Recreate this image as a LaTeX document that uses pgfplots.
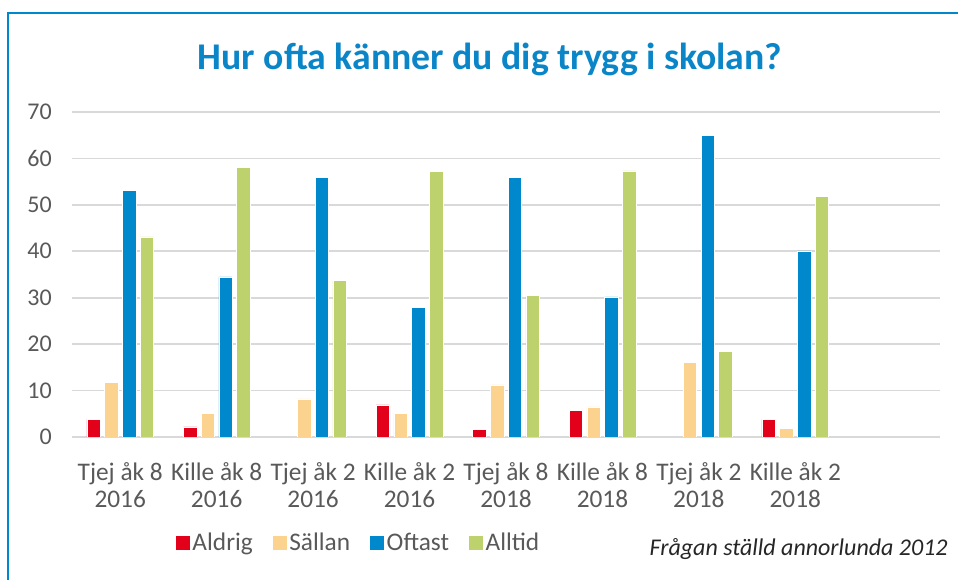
\documentclass[border=0pt]{standalone}
\usepackage{fontspec}
\setmainfont{Carlito}
\usepackage{pgfplots}
\pgfplotsset{compat=1.18}
\definecolor{cRed}{HTML}{E2001A}
\definecolor{cTan}{HTML}{FCD28F}
\definecolor{cBlue}{HTML}{0088CC}
\definecolor{cGreen}{HTML}{BDD16C}
\definecolor{cGrid}{HTML}{D9D9D9}
\definecolor{cText}{HTML}{595959}
\definecolor{cTitle}{HTML}{0A86C8}
\begin{document}
\begin{tikzpicture}
\useasboundingbox (0pt,0pt) rectangle (718.5pt,435pt);
\clip (0pt,0pt) rectangle (718.5pt,435pt);
\draw[cBlue, line width=1.3pt] (6pt,-5pt) -- (6pt,425.25pt) -- (730pt,425.25pt);
\node[anchor=base, text=cTitle, font=\fontsize{28.3}{32}\selectfont\bfseries] at (367.5pt,382.5pt) {Hur ofta känner du dig trygg i skolan?};
\node[anchor=east, text=black!85, font=\fontsize{18}{22}\selectfont\itshape, inner sep=0pt] at (711pt,23.25pt) {Frågan ställd annorlunda 2012};
\begin{axis}[
  at={(90.167pt,107.25pt)}, anchor=origin,
  scale only axis, width=651pt, height=243.75pt,
  ybar=3.2pt, bar width=10.1pt,
  xmin=-0.5, xmax=8.5, ymin=0, ymax=70,
  ytick={0,10,...,70},
  xtick={0,...,7},
  xticklabels={{Tjej åk 8\\2016},{Kille åk 8\\2016},{Tjej åk 2\\2016},{Kille åk 2\\2016},{Tjej åk 8\\2018},{Kille åk 8\\2018},{Tjej åk 2\\2018},{Kille åk 2\\2018}},
  axis line style={draw=none},
  major tick length=0pt,
  ymajorgrids, grid style={cGrid, line width=1.2pt},
  yticklabel style={font=\fontsize{18}{22}\selectfont, text=cText, inner sep=0pt, xshift=-15pt},
  xticklabel style={font=\fontsize{19}{20.5}\selectfont, text=cText, align=center, inner sep=0pt, yshift=-19pt},
  /pgf/number format/assume math mode=true,
  legend columns=-1,
  legend style={at={(0.3306,-0.326)}, anchor=center, draw=none, fill=none,
    font=\fontsize{19}{22}\selectfont, text=cText,
    /tikz/every even column/.append style={column sep=13pt}},
  legend image code/.code={\fill[#1, draw=none] (0pt,-5.2pt) rectangle (10.4pt,5.2pt);},
  every axis plot/.append style={draw=white, line width=0.4pt},
]
\addplot[fill=cRed] coordinates {(0,3.8) (1,2.2) (3,6.9) (4,1.6) (5,5.7) (7,3.8)};
\addplot[fill=cTan] coordinates {(0,11.8) (1,5.1) (2,8.2) (3,5.1) (4,11.2) (5,6.5) (6,16.1) (7,1.9)};
\addplot[fill=cBlue] coordinates {(0,53.1) (1,34.5) (2,55.9) (3,27.9) (4,55.9) (5,30.2) (6,65.0) (7,40.1)};
\addplot[fill=cGreen] coordinates {(0,43.1) (1,58.0) (2,33.7) (3,57.2) (4,30.5) (5,57.3) (6,18.4) (7,51.8)};
\legend{Aldrig,Sällan,Oftast,Alltid}
\end{axis}
\end{tikzpicture}
\end{document}
